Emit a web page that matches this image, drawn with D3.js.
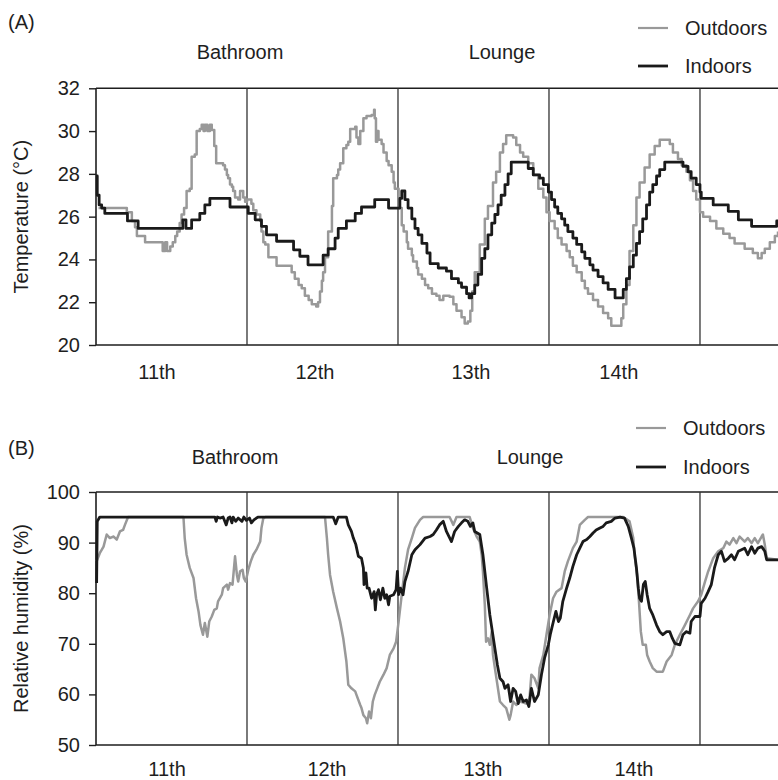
<!DOCTYPE html>
<html>
<head>
<meta charset="utf-8">
<script src="https://cdn.jsdelivr.net/npm/d3@7"></script>
<style>
  body { margin: 0; background: #fff; }
  svg { display: block; font-family: "Liberation Sans", Arial, Helvetica, sans-serif; }
</style>
</head>
<body>
<svg width="778" height="780"></svg>
<script>
// time in hours from midnight of the 11th
var dayNames = ['11th', '12th', '13th', '14th'];
var dayDividers = [24, 48, 72, 96];
var rooms = ['Bathroom', 'Lounge'];
var seriesNames = ['Outdoors', 'Indoors'];
var tempTicks = [20, 22, 24, 26, 28, 30, 32];
var rhTicks = [50, 60, 70, 80, 90, 100];

// (A) temperature, degC
var tempOutdoor = [
  [0.4, 26.4], [4.9, 26.2], [5.7, 25.8], [6.2, 25.5], [6.5, 25.1], [7.8, 24.8], [10.6, 24.4],
  [11.0, 24.8], [11.3, 24.4], [11.8, 24.6], [12.2, 24.8], [12.6, 25.1], [12.9, 25.3], [13.3, 25.7],
  [13.6, 26.1], [14.0, 26.4], [14.4, 27.2], [14.9, 27.3], [15.2, 28.8], [15.7, 28.9], [16.0, 30.0],
  [16.5, 30.1], [16.8, 30.3], [17.1, 30.0], [17.3, 30.3], [17.7, 30.0], [18.1, 30.3], [18.4, 30.05],
  [18.8, 29.3], [19.1, 28.5], [20.2, 28.4], [20.5, 28.2], [20.8, 27.95], [21.0, 27.8], [21.3, 27.5],
  [21.6, 27.4], [21.8, 27.2], [22.1, 26.9], [22.6, 26.8], [22.9, 27.2], [23.4, 26.9], [23.7, 26.7],
  [24.0, 26.8], [24.7, 26.6], [25.0, 26.3], [25.5, 26.1], [26.1, 25.8], [26.3, 25.3], [26.6, 24.8],
  [26.9, 24.7], [27.4, 24.1], [28.7, 23.7], [30.8, 23.7], [31.1, 23.4], [31.6, 23.1], [32.2, 22.8],
  [32.7, 22.65], [33.2, 22.3], [33.8, 22.1], [34.3, 21.9], [35.0, 21.8], [35.3, 22.0], [35.6, 22.5],
  [35.9, 23.0], [36.1, 23.4], [36.4, 24.1], [36.9, 25.3], [37.5, 26.5], [37.7, 27.8], [38.3, 27.95],
  [38.5, 28.2], [38.8, 28.5], [39.3, 29.2], [39.8, 29.35], [40.1, 29.5], [40.4, 30.1], [41.2, 30.2],
  [41.4, 29.7], [41.7, 29.4], [42.0, 30.0], [42.5, 30.6], [43.0, 30.7], [43.8, 30.75], [44.2, 31.0],
  [44.3, 30.6], [44.5, 29.5], [44.7, 30.0], [44.9, 29.6], [45.4, 29.4], [45.7, 29.0], [46.2, 28.6],
  [46.5, 28.4], [47.0, 28.1], [47.3, 27.6], [47.5, 27.3], [48.1, 26.4], [48.6, 25.6], [48.9, 25.3],
  [49.4, 24.8], [49.6, 24.5], [50.2, 24.2], [50.4, 23.9], [51.0, 23.6], [51.2, 23.3], [51.8, 23.1],
  [52.3, 22.8], [52.8, 22.65], [53.4, 22.4], [54.1, 22.3], [54.6, 22.1], [55.2, 22.3], [56.2, 22.25],
  [56.8, 21.9], [57.3, 21.6], [58.1, 21.3], [58.6, 21.0], [59.1, 21.1], [59.5, 21.6], [59.8, 22.5],
  [60.2, 23.4], [61.0, 24.7], [61.8, 25.9], [62.3, 26.5], [63.1, 27.6], [63.6, 28.1], [64.2, 29.0],
  [64.7, 29.4], [65.2, 29.8], [66.3, 29.7], [66.8, 29.35], [67.4, 29.0], [67.9, 28.8], [68.7, 28.5],
  [69.5, 27.95], [70.3, 27.3], [71.1, 26.9], [71.6, 26.2], [72.1, 25.8], [72.9, 25.45], [73.4, 25.0],
  [74.0, 24.7], [74.8, 24.4], [75.3, 24.1], [75.8, 23.7], [76.4, 23.4], [77.2, 23.0], [77.7, 22.65],
  [78.2, 22.4], [79.0, 22.1], [79.8, 21.8], [80.6, 21.5], [81.4, 21.25], [81.9, 20.9], [83.5, 21.25],
  [83.8, 21.9], [84.3, 22.8], [84.8, 24.4], [85.4, 25.6], [85.9, 26.9], [86.4, 27.6], [87.2, 28.3],
  [88.0, 28.9], [88.8, 29.3], [89.6, 29.6], [91.2, 29.4], [91.7, 29.0], [92.5, 28.7], [93.1, 28.4],
  [93.85, 28.1], [94.4, 27.7], [94.9, 27.2], [95.4, 26.8], [96.0, 26.2], [96.5, 26.0], [97.6, 25.8],
  [98.6, 25.45], [99.7, 25.2], [100.7, 25.0], [101.5, 24.75], [103.1, 24.5], [104.4, 24.3],
  [105.2, 24.05], [105.8, 24.3], [106.3, 24.5], [107.1, 24.8], [107.9, 25.1], [108.4, 25.3]
];
var tempIndoor = [
  [0.0, 27.9], [0.2, 27.0], [0.5, 26.55], [0.9, 26.4], [1.4, 26.15], [5.0, 25.8], [6.7, 25.45],
  [13.8, 25.85], [14.3, 25.45], [15.2, 25.85], [16.5, 26.15], [17.3, 26.55], [18.1, 26.85],
  [21.3, 26.45], [24.2, 26.15], [25.3, 25.85], [26.3, 25.55], [27.1, 25.15], [28.7, 24.85],
  [31.4, 24.45], [32.4, 24.15], [33.7, 23.75], [36.1, 24.2], [36.9, 24.5], [38.0, 25.0],
  [38.5, 25.45], [39.8, 25.8], [41.2, 26.15], [42.2, 26.45], [44.3, 26.8], [46.5, 26.4],
  [48.3, 26.85], [48.6, 27.2], [49.1, 26.8], [49.6, 26.4], [50.2, 25.9], [50.7, 25.45],
  [51.2, 25.15], [51.8, 24.75], [52.6, 24.3], [53.1, 23.8], [54.4, 23.6], [55.7, 23.45],
  [56.5, 23.1], [57.6, 22.9], [58.1, 22.7], [58.9, 22.4], [59.3, 22.2], [59.7, 22.4], [60.2, 22.8],
  [60.7, 23.3], [61.3, 24.05], [61.8, 24.5], [62.3, 25.15], [62.9, 25.7], [63.4, 26.1],
  [63.9, 26.55], [64.4, 27.0], [65.0, 27.5], [65.5, 28.0], [66.0, 28.55], [68.7, 28.25],
  [69.5, 27.95], [70.5, 27.8], [71.1, 27.5], [71.9, 27.15], [72.4, 26.8], [72.9, 26.45],
  [73.4, 26.15], [74.0, 25.9], [74.5, 25.6], [75.0, 25.3], [75.8, 25.0], [76.4, 24.7],
  [77.2, 24.35], [77.7, 24.05], [78.5, 23.75], [79.0, 23.5], [79.8, 23.2], [80.6, 22.9],
  [81.4, 22.6], [82.5, 22.2], [83.8, 22.6], [84.3, 23.1], [84.8, 23.65], [85.4, 24.2],
  [85.9, 24.75], [86.4, 25.3], [86.9, 25.9], [87.5, 26.55], [88.0, 27.15], [88.5, 27.5],
  [89.1, 27.9], [89.6, 28.2], [90.4, 28.55], [93.3, 28.35], [94.1, 28.1], [94.6, 27.8],
  [95.4, 27.5], [96.0, 27.15], [96.2, 26.85], [98.1, 26.55], [100.5, 26.25], [102.1, 25.85],
  [104.2, 25.55], [108.2, 25.8], [108.4, 25.8]
];

// (B) relative humidity, %
var rhOutdoor = [
  [0.1, 86.3], [0.6, 87.9], [1.2, 89.2], [1.7, 91.6], [2.2, 90.9], [2.8, 91.2], [3.3, 90.6],
  [3.8, 92.2], [4.3, 92.5], [4.6, 93.5], [5.1, 95.05], [13.9, 95.05], [14.1, 90.9], [14.4, 87.6],
  [14.9, 85.0], [15.5, 83.0], [15.9, 79.0], [16.3, 76.4], [16.6, 73.7], [17.0, 71.8], [17.3, 74.1],
  [17.7, 71.4], [18.0, 74.4], [18.4, 75.4], [18.8, 76.7], [19.2, 77.0], [19.4, 78.4], [20.0, 79.7],
  [20.2, 81.0], [20.8, 81.7], [21.0, 80.7], [21.3, 82.0], [21.7, 81.7], [22.1, 87.3], [22.4, 83.6],
  [22.6, 82.3], [22.9, 84.3], [23.3, 84.6], [23.5, 83.0], [23.8, 82.3], [24.2, 84.6], [24.6, 86.3],
  [25.0, 87.6], [25.5, 88.6], [26.1, 90.2], [26.3, 92.9], [26.6, 94.85], [26.9, 95.05],
  [36.4, 95.05], [36.7, 90.9], [36.9, 87.6], [37.2, 83.6], [37.7, 80.3], [38.3, 77.0], [38.8, 74.4],
  [39.3, 71.1], [39.8, 66.5], [40.1, 61.9], [40.6, 61.2], [41.2, 60.6], [41.4, 59.9], [42.0, 57.9],
  [42.2, 57.3], [42.5, 55.9], [42.9, 55.3], [43.1, 54.3], [43.4, 56.6], [43.7, 55.3], [44.0, 58.6],
  [44.3, 59.9], [44.7, 61.2], [45.1, 62.5], [45.7, 63.9], [46.2, 65.2], [46.7, 67.8], [47.3, 69.1],
  [47.7, 70.4], [48.1, 74.4], [48.6, 79.7], [49.1, 85.0], [49.6, 88.6], [50.2, 90.9], [50.7, 92.9],
  [51.5, 94.5], [52.0, 95.05], [56.2, 95.05], [56.8, 93.5], [57.3, 95.05], [59.4, 95.05],
  [59.9, 92.9], [60.5, 91.2], [61.0, 90.2], [61.3, 87.6], [61.5, 84.3], [61.8, 77.7], [62.0, 70.4],
  [62.3, 71.1], [62.6, 69.8], [62.9, 72.4], [63.1, 67.8], [63.4, 65.2], [63.8, 61.9], [64.2, 58.6],
  [64.7, 57.9], [65.2, 57.3], [65.7, 55.0], [65.9, 55.9], [66.3, 58.6], [66.8, 57.9], [67.4, 58.6],
  [68.4, 58.2], [68.9, 59.2], [69.2, 63.9], [69.7, 63.2], [70.3, 61.2], [70.5, 65.2], [71.1, 67.8],
  [71.6, 71.8], [72.1, 75.7], [72.65, 79.0], [73.2, 80.3], [74.0, 81.0], [74.5, 84.3], [75.0, 86.3],
  [75.8, 88.9], [76.4, 90.2], [76.9, 93.5], [77.7, 94.5], [78.2, 95.05], [83.8, 95.05],
  [84.8, 94.2], [85.4, 90.9], [85.6, 87.6], [86.0, 83.6], [86.3, 78.4], [86.6, 72.4], [86.9, 69.8],
  [87.4, 69.8], [87.6, 67.8], [88.0, 66.5], [88.5, 65.2], [89.1, 64.5], [90.1, 64.5], [90.7, 66.5],
  [91.5, 67.8], [92.0, 69.8], [92.8, 71.8], [93.6, 73.7], [94.4, 75.7], [94.9, 77.0], [95.7, 78.4],
  [96.2, 79.7], [96.8, 82.3], [97.3, 84.3], [98.1, 86.9], [98.9, 88.3], [99.7, 88.9], [100.2, 90.2],
  [100.7, 89.6], [101.3, 90.9], [101.8, 89.9], [102.3, 91.2], [103.1, 90.2], [103.6, 90.9],
  [104.2, 89.9], [104.7, 90.9], [105.2, 89.9], [105.8, 91.2], [106.0, 91.6], [106.3, 89.6],
  [106.6, 86.9], [108.4, 86.6]
];
var rhIndoor = [
  [0.1, 82.0], [0.2, 94.2], [0.6, 95.05], [18.9, 95.05], [19.1, 94.2], [19.3, 95.05], [19.7, 94.85],
  [20.2, 95.05], [20.7, 93.5], [21.0, 94.85], [21.3, 95.05], [21.6, 93.9], [21.8, 95.05],
  [22.2, 94.2], [22.6, 94.85], [23.2, 94.2], [23.5, 95.05], [23.9, 94.4], [24.4, 94.85],
  [24.7, 93.9], [25.1, 94.5], [25.5, 94.85], [25.8, 95.05], [37.7, 95.05], [38.1, 93.7],
  [38.5, 95.05], [39.8, 95.05], [40.1, 93.5], [40.6, 92.2], [40.9, 90.9], [41.3, 89.6], [41.7, 87.3],
  [42.2, 86.9], [42.5, 85.0], [42.6, 81.7], [42.9, 84.0], [43.1, 81.0], [43.4, 81.0], [43.8, 79.0],
  [44.2, 80.3], [44.4, 76.7], [44.6, 79.7], [44.9, 80.7], [45.2, 78.7], [45.6, 81.0], [45.9, 79.0],
  [46.2, 79.7], [46.5, 77.7], [46.7, 79.4], [47.3, 79.7], [47.7, 80.7], [47.9, 84.3], [48.1, 79.7],
  [48.4, 81.0], [48.8, 79.7], [49.1, 82.3], [49.6, 84.3], [50.2, 87.6], [50.7, 88.6], [51.5, 89.6],
  [52.3, 90.9], [53.1, 91.2], [53.6, 91.6], [54.1, 92.5], [54.6, 93.5], [55.2, 94.2], [55.7, 92.2],
  [56.5, 90.2], [57.0, 92.2], [57.6, 93.2], [58.1, 93.9], [58.6, 94.5], [59.1, 94.2], [59.5, 93.2],
  [59.9, 93.9], [60.2, 92.2], [61.0, 91.6], [61.5, 87.6], [62.1, 81.0], [62.6, 75.7], [63.0, 72.4],
  [63.4, 69.1], [63.8, 65.8], [64.2, 63.2], [64.7, 62.5], [65.0, 61.2], [65.5, 61.9], [65.9, 58.6],
  [66.3, 61.2], [66.7, 60.6], [67.1, 58.2], [67.5, 59.9], [67.9, 58.6], [68.4, 58.9], [68.8, 57.6],
  [69.2, 61.2], [69.7, 58.6], [70.3, 59.9], [70.8, 63.9], [71.3, 67.2], [71.9, 69.8], [72.2, 71.8],
  [72.7, 74.4], [73.1, 76.4], [73.5, 74.4], [73.8, 75.1], [74.2, 78.4], [74.8, 81.0], [75.3, 83.0],
  [75.8, 85.3], [76.4, 87.6], [76.9, 88.9], [77.4, 90.2], [78.0, 90.6], [78.5, 91.2], [79.0, 91.9],
  [79.5, 92.5], [80.1, 92.9], [80.6, 93.2], [81.1, 93.9], [81.9, 94.2], [82.5, 94.85], [83.3, 95.05],
  [84.0, 94.85], [84.6, 93.2], [85.1, 90.9], [85.5, 88.9], [85.9, 85.0], [86.2, 81.0], [86.4, 79.0],
  [86.7, 78.4], [87.0, 81.7], [87.3, 82.3], [87.6, 79.7], [88.0, 77.0], [88.5, 75.7], [89.1, 73.7],
  [89.6, 72.4], [90.1, 71.8], [90.7, 72.4], [91.2, 72.4], [91.6, 71.1], [92.0, 70.1], [92.8, 69.8],
  [93.3, 71.8], [93.8, 72.4], [94.4, 72.1], [94.6, 74.4], [95.2, 75.4], [96.0, 75.4], [96.2, 78.0],
  [96.8, 79.0], [97.3, 80.3], [97.8, 81.7], [98.3, 85.0], [98.9, 87.6], [99.4, 88.3], [99.9, 86.3],
  [100.5, 86.9], [101.0, 87.6], [101.5, 86.6], [102.1, 88.3], [102.6, 88.6], [103.1, 88.9],
  [103.6, 87.6], [104.2, 89.2], [104.7, 87.9], [105.2, 88.9], [105.8, 89.2], [106.3, 88.3],
  [106.6, 86.6], [108.4, 86.6]
];

// tick label positions (hours) for the day names, as placed in each panel
var dayLabelPosA = [9.7, 34.8, 59.6, 83.1];
var dayLabelPosB = [11.3, 36.7, 61.5, 85.5];

var svg = d3.select('svg');
var colOut = '#999', colIn = '#1a1a1a', ink = '#1e1e1e';
var fs = 20;

var x = d3.scaleLinear().domain([0, 108.4]).range([96, 778]);

var panels = [
  {tag: '(A)', tagY: 29, roomY: 59, roomX: [240, 502], legY: [28, 66], legX: 638, top: 88.3, bottom: 345,
   domain: [20, 32], ticks: tempTicks, title: 'Temperature (\u00B0C)', outdoor: tempOutdoor, indoor: tempIndoor,
   curve: d3.curveStepAfter, labelPos: dayLabelPosA, labelY: 379},
  {tag: '(B)', tagY: 455, roomY: 464, roomX: [235, 530], legY: [428, 467], legX: 636, top: 492, bottom: 745,
   domain: [50, 100], ticks: rhTicks, title: 'Relative humidity (%)', outdoor: rhOutdoor, indoor: rhIndoor,
   curve: d3.curveLinear, labelPos: dayLabelPosB, labelY: 776}
];

panels.forEach(function(p) {
  var y = d3.scaleLinear().domain(p.domain).range([p.bottom, p.top]);
  var g = svg.append('g');

  // panel tag, room names
  g.append('text').attr('x', 8).attr('y', p.tagY).attr('font-size', fs).attr('fill', ink).text(p.tag);
  g.selectAll('.room').data(rooms).enter().append('text')
    .attr('x', function(d, i) { return p.roomX[i]; })
    .attr('y', p.roomY)
    .attr('text-anchor', 'middle').attr('font-size', fs).attr('fill', ink)
    .text(function(d) { return d; });

  // legend
  var leg = g.selectAll('.leg').data(seriesNames).enter().append('g')
    .attr('transform', function(d, i) { return 'translate(' + p.legX + ',' + p.legY[i] + ')'; });
  leg.append('line').attr('x1', 0).attr('x2', 30)
    .attr('stroke', function(d, i) { return i === 0 ? colOut : colIn; })
    .attr('stroke-width', function(d, i) { return i === 0 ? 2.2 : 2.8; });
  leg.append('text').attr('x', 47).attr('dy', '0.35em').attr('font-size', fs).attr('fill', ink)
    .text(function(d) { return d; });

  // y axis
  var yAxis = g.append('g').attr('transform', 'translate(96,0)')
    .call(d3.axisLeft(y).tickValues(p.ticks).tickSize(7).tickPadding(9).tickFormat(d3.format('d')));
  yAxis.select('.domain').remove();
  yAxis.selectAll('line').attr('stroke', ink).attr('stroke-width', 1.4);
  yAxis.selectAll('text').attr('font-size', fs).attr('fill', ink).attr('font-family', null);

  g.append('text')
    .attr('transform', 'translate(28,' + ((p.top + p.bottom) / 2) + ') rotate(-90)')
    .attr('text-anchor', 'middle').attr('font-size', fs).attr('fill', ink)
    .text(p.title);

  // frame: left, top, bottom (open to the right edge)
  g.append('line').attr('x1', 96).attr('x2', 96).attr('y1', p.top).attr('y2', p.bottom)
    .attr('stroke', ink).attr('stroke-width', 1.6);
  [p.top, p.bottom].forEach(function(yy) {
    g.append('line').attr('x1', 96).attr('x2', 780).attr('y1', yy).attr('y2', yy)
      .attr('stroke', ink).attr('stroke-width', 1.6);
  });
  g.selectAll('.div').data(dayDividers).enter().append('line')
    .attr('x1', function(d) { return x(d); }).attr('x2', function(d) { return x(d); })
    .attr('y1', p.top).attr('y2', p.bottom)
    .attr('stroke', '#333').attr('stroke-width', 1.3);

  // day labels
  g.selectAll('.day').data(dayNames).enter().append('text')
    .attr('x', function(d, i) { return x(p.labelPos[i]); })
    .attr('y', p.labelY)
    .attr('text-anchor', 'middle').attr('font-size', fs).attr('fill', ink)
    .text(function(d) { return d; });

  // series
  var line = d3.line().curve(p.curve)
    .x(function(d) { return x(d[0]); })
    .y(function(d) { return y(d[1]); });
  g.append('path').datum(p.outdoor).attr('d', line)
    .attr('fill', 'none').attr('stroke', colOut).attr('stroke-width', 2.5).attr('stroke-linejoin', 'round');
  g.append('path').datum(p.indoor).attr('d', line)
    .attr('fill', 'none').attr('stroke', colIn).attr('stroke-width', 2.8).attr('stroke-linejoin', 'round');
});
</script>
</body>
</html>
